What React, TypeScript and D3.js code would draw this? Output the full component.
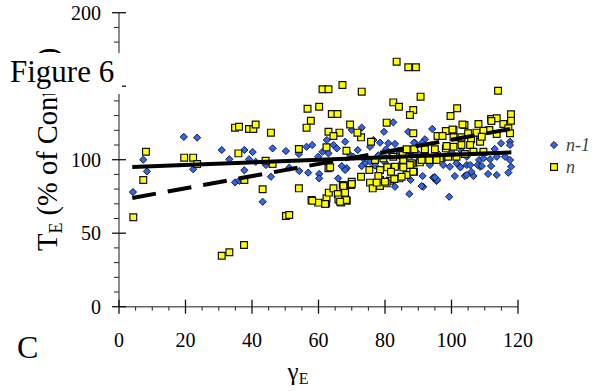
import React, { useEffect, useRef } from "react";
import * as d3 from "d3";

// n-1 (blue diamonds): [γE, TE]
const nMinus1: [number, number][] = [
  [4.2, 78], [7.3, 100], [8.4, 92], [19.5, 115.5], [23.5, 115], [22.3, 93.5], [30.9, 106.6], [33.2, 100.3],
  [37.7, 106.6], [40.2, 105.2], [41.1, 98.6], [39.1, 100.3], [37.7, 92.8], [34.9, 84.6], [36.2, 85.7],
  [44.2, 96.4], [46.2, 107.7], [45.7, 88.4], [50.2, 105.9], [51.2, 94.6], [54.1, 103.9], [54.2, 92.3],
  [43.2, 71.4], [56.4, 108.8], [58.1, 110], [56.9, 91.2], [60.2, 90.3], [60.2, 87.3], [65.9, 87.3],
  [62.5, 113.4], [68, 112.2], [70, 120.2], [73, 121.8], [71.8, 106.6], [75.5, 108.8], [79.7, 119],
  [82.5, 125.4], [87, 119], [89, 111.4], [92, 113.9], [94.2, 120.9], [68.5, 94.2], [74, 97.6], [83, 81.6],
  [87.3, 76.7], [91.5, 81.6], [94.5, 87.8], [99.3, 74.8], [101, 88.9], [104, 88.9], [106.6, 88.9],
  [108.6, 95.2], [111, 90.3], [113.6, 89.6], [113, 107.3], [108.3, 99.8], [104.6, 96.4], [102.6, 95.2],
  [97.5, 96.4], [93.5, 96.4], [89.5, 97.6], [86.5, 98.6], [95.5, 85.5], [61.2, 105.4], [59.9, 102],
  [63, 104.3], [64.5, 110], [65.5, 107.7], [76.5, 113.4], [78.5, 111.6], [81, 111.2], [83, 110.7],
  [80.3, 107.1], [69.5, 103.2], [73.5, 100.9], [75.5, 98.6], [68, 93], [67, 95.7], [73, 95.7], [70.5, 102],
  [91.2, 111.6], [88.7, 111.6], [99.5, 95.2], [101.5, 97.6], [102.7, 94.8], [91.3, 88.9], [94.9, 88],
  [95.7, 86.2], [87.7, 86.2], [91, 82.1], [114.9, 111.2], [117.6, 112.2], [104.6, 102], [109.6, 100.9],
  [111.6, 100.3], [113.6, 102], [116.1, 102], [117.6, 99.8], [117.9, 95.2], [117.1, 91.2], [107.9, 96.4],
  [106, 91.8], [104.6, 89.6], [111.9, 95.7], [109.1, 95.7], [105.6, 96.4], [117.6, 110], [95, 88],
  [78, 103], [82, 104], [85, 101], [88, 103], [96, 104], [100, 105], [103, 106], [98, 101], [90, 104],
  [84, 106], [80, 98], [77, 96],
];

// n (yellow squares): [γE, TE]
const nCurrent: [number, number][] = [
  [8.1, 105.4], [7.3, 86.2], [19.6, 101.4], [22.3, 101.4], [23.5, 97], [4.3, 60.8], [34.9, 121.8],
  [36.1, 122.4], [39.1, 120.9], [40.4, 120.9], [41.1, 124], [45.7, 118.4], [35.9, 104.3], [37.7, 86.2],
  [43.2, 79.9], [44.1, 99.3], [46.2, 97.1], [54.1, 107.3], [54.1, 80.5], [30.9, 34.7], [33.2, 37],
  [37.6, 42], [50.2, 61.7], [51.2, 62.4], [61.2, 147.9], [63, 147.9], [56.7, 134.7], [60.2, 136],
  [57.7, 126.5], [56.4, 121.8], [63, 119], [62.4, 108.4], [63, 94.2], [57.9, 72.6], [59.9, 70.8],
  [62.3, 70.3], [62.4, 73.7], [83.5, 166.7], [87, 162.9], [89.3, 162.9], [67.2, 150.8], [73, 146.3],
  [90.7, 142.9], [82.5, 139], [84.2, 136], [88.5, 133.8], [87.5, 130.4], [99.7, 129.7], [101.7, 135],
  [114, 146.9], [64, 131.1], [65.7, 131.1], [69.5, 124], [80.5, 125.2], [66.3, 118.4], [64.5, 116.1],
  [72.8, 115.2], [75.8, 112.2], [71.7, 118.4], [88.5, 118], [98.3, 119.5], [100.6, 120.2], [103.9, 123.6],
  [108.1, 124.3], [111.9, 127.7], [113.6, 128.2], [103, 115.2], [105.9, 113.9], [108.6, 113.9],
  [111.4, 120.2], [68.4, 106.1], [72.8, 88.4], [75.5, 84.4], [78.5, 86.2], [81.5, 85.7], [84.3, 87.3],
  [86.5, 89.6], [88.7, 91.8], [75.3, 93], [78.5, 93], [80.7, 94.8], [83, 95.2], [85.3, 96.4], [88, 97.6],
  [90.5, 98.2], [92, 106.6], [95, 107.1], [98.3, 107.7], [100.6, 108.8], [103, 110], [105.6, 110],
  [108.6, 112.2], [94, 99.8], [96.5, 100.9], [99, 102], [101.5, 102], [104, 103.9], [106.6, 105.4],
  [109.6, 105.4], [87.5, 106.6], [85.3, 103.2], [82.5, 102], [79.5, 100.9], [77, 99.8], [58.1, 72.1],
  [62, 69.9], [63.1, 77.6], [64.5, 80.5], [65.8, 76.7], [66, 73], [66.8, 70.8], [68, 77.6], [68.5, 72.1],
  [67.3, 82.8], [69.8, 82.8], [70, 85], [76.3, 80.5], [78.5, 82.1], [80.5, 83.9], [63.5, 94.8],
  [78, 88.9], [81.8, 91.8], [82.8, 86.9], [80, 85], [77.5, 84.4], [70, 83.5], [67.5, 82.1], [68.3, 72.6],
  [66.5, 71.4], [103.3, 124], [100.3, 120.6], [95.8, 116.1], [97.3, 116.1], [100.6, 115.2], [98.5, 109.3],
  [92, 107.1], [88.8, 107.1], [86.5, 107.1], [91, 99.8], [93.3, 99.8], [95.5, 99.8], [85.5, 99.8],
  [87.5, 96.4], [85.5, 94.8], [88.5, 91.8], [85, 88.4], [105, 118], [107.5, 118.4], [109.6, 119.7],
  [113.6, 117.5], [112, 126.3], [115.6, 124.3], [117.9, 130.9], [117.9, 126.5], [117.1, 121.4],
  [117.6, 118], [109.1, 115.6],
];

// regression lines
const fitNMinus1: [number, number][] = [[4, 95], [118, 105]];
const fitN: [number, number][] = [[4, 74], [118, 121]];

const yMajor = [0, 50, 100, 150, 200];
const yMinor = d3.range(0, 201, 10);
const xMajor = [0, 20, 40, 60, 80, 100, 120];
const xMinor = d3.range(0, 121, 5);
const legendLabels = ["n-1", "n"];

const W = 594;
const H = 391;
const FONT = "Liberation Serif, Times New Roman, Times, DejaVu Serif, serif";

const App = () => {
  const svgRef = useRef<SVGSVGElement>(null);

  useEffect(() => {
    const svg = d3.select(svgRef.current);
    svg.selectAll("*").remove();

    const x = d3.scaleLinear().domain([0, 120]).range([119, 518]);
    const y = d3.scaleLinear().domain([0, 200]).range([306.7, 12.7]);

    // axes
    const ax = svg.append("g");
    ax.append("line").attr("x1", x(0)).attr("x2", x(120)).attr("y1", y(0)).attr("y2", y(0))
      .attr("stroke", "#666").attr("stroke-width", 1.5);
    ax.append("line").attr("x1", x(0)).attr("x2", x(0)).attr("y1", y(0)).attr("y2", y(200))
      .attr("stroke", "#666").attr("stroke-width", 1.5);

    ax.selectAll(".ymin").data(yMinor.filter(v => !yMajor.includes(v))).join("line")
      .attr("x1", x(0) - 5).attr("x2", x(0)).attr("y1", d => y(d)).attr("y2", d => y(d))
      .attr("stroke", "#222").attr("stroke-width", 1);
    ax.selectAll(".ymaj").data(yMajor).join("line")
      .attr("x1", x(0) - 7).attr("x2", x(0) + 7).attr("y1", d => y(d)).attr("y2", d => y(d))
      .attr("stroke", "#111").attr("stroke-width", 1.3);
    ax.selectAll(".ylab").data(yMajor).join("text")
      .attr("x", 101).attr("y", d => y(d) + 7)
      .attr("text-anchor", "end").attr("font-size", 20)
      .text(d => d);

    ax.selectAll(".xmin").data(xMinor.filter(v => !xMajor.includes(v))).join("line")
      .attr("x1", d => x(d)).attr("x2", d => x(d)).attr("y1", y(0)).attr("y2", y(0) + 4)
      .attr("stroke", "#222").attr("stroke-width", 1);
    ax.selectAll(".xmaj").data(xMajor).join("line")
      .attr("x1", d => x(d)).attr("x2", d => x(d)).attr("y1", y(0) - 7).attr("y2", y(0) + 7)
      .attr("stroke", "#111").attr("stroke-width", 1.3);
    ax.selectAll(".xlab").data(xMajor).join("text")
      .attr("x", d => x(d)).attr("y", 347)
      .attr("text-anchor", "middle").attr("font-size", 20)
      .text(d => d);

    // points
    const diamond = d3.symbol(d3.symbolSquare, 26)();
    const square = d3.symbol(d3.symbolSquare, 46)();

    svg.append("g").selectAll("path").data(nMinus1).join("path")
      .attr("d", diamond)
      .attr("transform", d => `translate(${x(d[0])},${y(d[1])}) rotate(45)`)
      .attr("fill", "#3366e6").attr("stroke", "#101830").attr("stroke-width", 0.9);

    svg.append("g").selectAll("path").data(nCurrent).join("path")
      .attr("d", square)
      .attr("transform", d => `translate(${x(d[0])},${y(d[1])})`)
      .attr("fill", "#ffff00").attr("stroke", "#111").attr("stroke-width", 1.2);

    // regression lines
    const line = d3.line<[number, number]>().x(d => x(d[0])).y(d => y(d[1]));
    svg.append("path").datum(fitNMinus1).attr("d", line)
      .attr("fill", "none").attr("stroke", "#000").attr("stroke-width", 4);
    svg.append("path").datum(fitN).attr("d", line)
      .attr("fill", "none").attr("stroke", "#000").attr("stroke-width", 4)
      .attr("stroke-dasharray", "24,12");

    // legend
    const lg = svg.append("g");
    lg.append("path").attr("d", diamond).attr("transform", "translate(554,145) rotate(45)")
      .attr("fill", "#3366e6").attr("stroke", "#101830").attr("stroke-width", 0.9);
    lg.append("path").attr("d", square).attr("transform", "translate(554,167)")
      .attr("fill", "#ffff00").attr("stroke", "#111").attr("stroke-width", 1.2);
    lg.selectAll("text").data(legendLabels).join("text")
      .attr("x", 566).attr("y", (d, i) => 151 + i * 22)
      .attr("font-style", "italic").attr("font-size", 18)
      .attr("fill", "#444").text(d => d);

    // y axis title
    const yt = svg.append("text")
      .attr("transform", "translate(57,251) rotate(-90)")
      .attr("font-size", 28.5);
    yt.append("tspan").text("T");
    yt.append("tspan").attr("font-size", 18).attr("dy", 5).text("E");
    yt.append("tspan").attr("dy", -5).text(" (% of Control)");

    // figure label box
    svg.append("rect").attr("x", 0).attr("y", 53).attr("width", 122).attr("height", 41).attr("fill", "#fff");
    svg.append("text").attr("x", 10).attr("y", 82)
      .attr("font-size", 31).text("Figure 6");

    // x axis title
    const xt = svg.append("text").attr("x", 298).attr("y", 380).attr("text-anchor", "middle")
      .attr("font-size", 25);
    xt.append("tspan").text("γ");
    xt.append("tspan").attr("font-size", 16).attr("dy", 4).text("E");

    svg.append("text").attr("x", 17).attr("y", 358)
      .attr("font-size", 32).text("C");
  }, []);

  return (
    <svg
      ref={svgRef}
      width={W}
      height={H}
      fontFamily={FONT}
      style={{ position: "absolute", left: 0, top: 0, background: "#fff" }}
    />
  );
};

export default App;
